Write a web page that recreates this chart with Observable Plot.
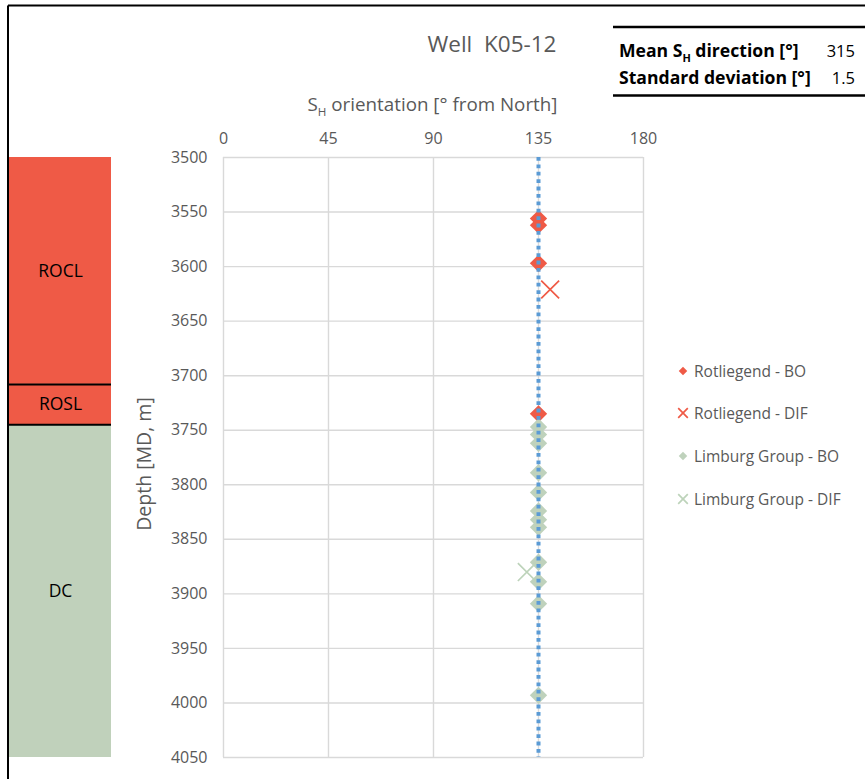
<!DOCTYPE html>
<html><head><meta charset="utf-8">
<script src="https://cdn.jsdelivr.net/npm/d3@7"></script>
<script src="https://cdn.jsdelivr.net/npm/@observablehq/plot@0.6"></script>
<style>
body{margin:0;background:#fff;}
#wrap{position:relative;width:865px;height:779px;overflow:hidden;font-family:"Open Sans",sans-serif;background:#fff;}
#wrap > svg{position:absolute;left:0;top:0;}
</style></head><body><div id="wrap"></div>
<script>
// ---- data ----
const wellName = "Well  K05-12";
const meanDirection = 315;      // degrees
const stdDeviation = 1.5;       // degrees
const xTicks = [0, 45, 90, 135, 180];
const yTicks = [3500, 3550, 3600, 3650, 3700, 3750, 3800, 3850, 3900, 3950, 4000, 4050];

const seriesNames = ["Rotliegend - BO", "Rotliegend - DIF", "Limburg Group - BO", "Limburg Group - DIF"];

const rotBODepth   = [3556, 3562, 3597, 3735];
const rotBOAzimuth = [135, 135, 135, 135];
const rotDIFDepth   = [3621];
const rotDIFAzimuth = [140];
const limBODepth   = [3747, 3754, 3762, 3789, 3807, 3824, 3832, 3839, 3871, 3889, 3909, 3993];
const limBOAzimuth = [135, 135, 135, 135, 135, 135, 135, 135, 135, 135, 135, 135];
const limDIFDepth   = [3880];
const limDIFAzimuth = [130];

const unitNames = ["ROCL", "ROSL", "DC"];
const unitTops  = [3500, 3708, 3745];
const unitBases = [3708, 3745, 4050];

// ---- styles ----
const RED = "#EF5A46", GREEN = "#BFD2BC", GREEN_X = "#BDD3BA", GREY = "#595959", BLUE = "#5B9BD5";
const unitColors = [RED, RED, "#C0D1BB"];
const seriesColor = [RED, RED, GREEN, GREEN_X];
const seriesSymbol = ["diamond2", "times", "diamond2", "times"];

const W = 865, H = 779;
const wrap = document.getElementById("wrap");

function pts(depths, az, name) { return depths.map((d, i) => ({series: name, depth: d, az: az[i]})); }
const rotBO = pts(rotBODepth, rotBOAzimuth, seriesNames[0]);
const rotDIF = pts(rotDIFDepth, rotDIFAzimuth, seriesNames[1]);
const limBO = pts(limBODepth, limBOAzimuth, seriesNames[2]);
const limDIF = pts(limDIFDepth, limDIFAzimuth, seriesNames[3]);
const meanAzimuth = meanDirection - 180;

const yScale = {domain: [yTicks[0], yTicks[yTicks.length - 1]], reverse: true};

// ---- main chart ----
const main = Plot.plot({
  width: W, height: H,
  marginLeft: 223, marginRight: 222, marginTop: 157, marginBottom: 22,
  style: {fontFamily: '"Open Sans", sans-serif', fontSize: "16px", color: GREY, background: "transparent", overflow: "visible"},
  x: {domain: [0, 180]},
  y: yScale,
  marks: [
    Plot.gridX(xTicks, {stroke: "#D9D9D9", strokeOpacity: 1, strokeWidth: 1.4}),
    Plot.gridY(yTicks, {stroke: "#D9D9D9", strokeOpacity: 1, strokeWidth: 1.4}),
    Plot.axisX(xTicks, {anchor: "top", tickSize: 0, tickPadding: 14, label: null, fill: GREY, fontSize: 16}),
    Plot.axisY(yTicks, {anchor: "left", tickSize: 0, tickPadding: 16, label: null, tickFormat: "d", fill: GREY, fontSize: 16}),
    Plot.dot(rotBO, {x: "az", y: "depth", symbol: "diamond2", r: 7.8, fill: RED, stroke: "none"}),
    Plot.dot(limBO, {x: "az", y: "depth", symbol: "diamond2", r: 7.8, fill: GREEN, stroke: "none"}),
    Plot.dot(rotDIF, {x: "az", y: "depth", symbol: "times", r: 8.2, stroke: RED, strokeWidth: 1.7, fill: "none"}),
    Plot.dot(limDIF, {x: "az", y: "depth", symbol: "times", r: 8.2, stroke: GREEN_X, strokeWidth: 1.7, fill: "none"}),
    Plot.ruleX([meanAzimuth], {stroke: BLUE, strokeWidth: 4, strokeDasharray: "3.8,3.6"})
  ]
});
wrap.appendChild(main);

// ---- stratigraphic column ----
const units = unitNames.map((n, i) => ({name: n, top: unitTops[i], base: unitBases[i]}));
const strat = Plot.plot({
  width: 120, height: H,
  marginLeft: 9, marginRight: 9, marginTop: 157, marginBottom: 22,
  style: {fontFamily: '"Open Sans", sans-serif', background: "transparent", overflow: "visible"},
  x: {domain: [0, 1], axis: null},
  y: {...yScale, axis: null},
  color: {domain: unitNames, range: unitColors},
  marks: [
    Plot.rect(units, {x1: 0, x2: 1, y1: "top", y2: "base", fill: "name"}),
    Plot.ruleY(unitTops.slice(1), {stroke: "black", strokeWidth: 2}),
    Plot.text(units, {x: 0.5, y: d => (d.top + d.base) / 2, text: "name", fill: "black", fontSize: 17.5})
  ]
});
wrap.appendChild(strat);

// ---- overlay: frame, titles, table, legend ----
const svg = d3.select(wrap).append("svg").attr("width", W).attr("height", H)
  .style("font-family", '"Open Sans", sans-serif');

svg.append("line").attr("x1", 8).attr("y1", 5.5).attr("x2", W).attr("y2", 5.5).attr("stroke", "black").attr("stroke-width", 2);
svg.append("line").attr("x1", 8).attr("y1", 5.5).attr("x2", 8).attr("y2", H).attr("stroke", "black").attr("stroke-width", 2);

svg.append("text").attr("x", 492).attr("y", 52).attr("text-anchor", "middle")
  .attr("font-size", 22.5).attr("fill", GREY).style("white-space", "pre").text(wellName);

function subText(g, x, y, anchor, size, weight, fill, pre, sub, post) {
  const t = g.append("text").attr("x", x).attr("y", y).attr("text-anchor", anchor)
    .attr("font-size", size).attr("font-weight", weight).attr("fill", fill);
  t.append("tspan").text(pre);
  t.append("tspan").attr("dy", size * 0.28).attr("font-size", size * 0.62).text(sub);
  t.append("tspan").attr("dy", -size * 0.28).text(post);
  return t;
}
subText(svg, 432.5, 111, "middle", 18.8, "normal", GREY, "S", "H", " orientation [° from North]");

svg.append("text").attr("transform", "translate(151,464) rotate(-90)").attr("text-anchor", "middle")
  .attr("font-size", 19.5).attr("fill", GREY).text("Depth [MD, m]");

// table
svg.append("line").attr("x1", 613).attr("x2", W).attr("y1", 27).attr("y2", 27).attr("stroke", "black").attr("stroke-width", 2.3);
svg.append("line").attr("x1", 613).attr("x2", W).attr("y1", 95.5).attr("y2", 95.5).attr("stroke", "black").attr("stroke-width", 2.3);
subText(svg, 619, 57, "start", 17.6, "bold", "black", "Mean S", "H", " direction [°]");
svg.append("text").attr("x", 855).attr("y", 57).attr("text-anchor", "end").attr("font-size", 16.5).attr("fill", "black").text(String(meanDirection));
svg.append("text").attr("x", 619).attr("y", 83.5).attr("font-size", 17.6).attr("font-weight", "bold").attr("fill", "black").text("Standard deviation [°]");
svg.append("text").attr("x", 855).attr("y", 83.5).attr("text-anchor", "end").attr("font-size", 16.5).attr("fill", "black").text(String(stdDeviation));

// legend
const legY = [371, 413, 456, 499];
seriesNames.forEach((name, i) => {
  const g = svg.append("g").attr("transform", `translate(683,${legY[i]})`);
  if (seriesSymbol[i] === "diamond2") {
    g.append("path").attr("d", d3.symbol(d3.symbolDiamond2, 46)()).attr("fill", seriesColor[i]);
  } else {
    g.append("path").attr("d", "M-4.8,-4.8L4.8,4.8M4.8,-4.8L-4.8,4.8").attr("stroke", seriesColor[i]).attr("stroke-width", 1.7).attr("fill", "none");
  }
  svg.append("text").attr("x", 694).attr("y", legY[i] + 6).attr("font-size", 15.5).attr("fill", GREY).text(name);
});
</script></body></html>
